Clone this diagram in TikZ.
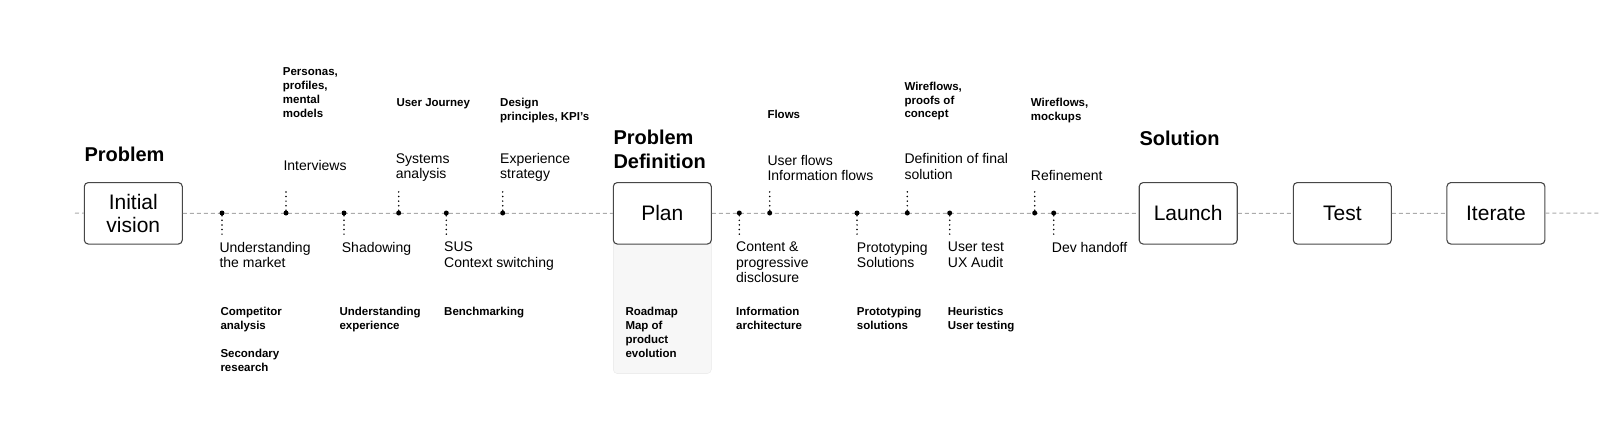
\documentclass[tikz,border=0pt]{standalone}
\usepackage{fontspec}
\setmainfont{Liberation Sans}
\usetikzlibrary{positioning}
\definecolor{lineGray}{HTML}{ABABAB}
\definecolor{panelGray}{HTML}{F7F7F7}
\definecolor{panelEdge}{HTML}{E8E8E8}
\definecolor{boxEdge}{HTML}{474747}
\tikzset{
  stage/.style={draw=boxEdge,line width=1.1pt,rounded corners=4pt,fill=white,
    minimum width=98pt,minimum height=61.5pt,align=center,inner sep=0pt,
    font=\fontsize{21}{23.5}\selectfont},
  panel/.style={draw=panelEdge,fill=panelGray,rounded corners=4pt,
    minimum width=98pt,inner sep=0pt},
  timeline/.style={lineGray,line width=1pt,dash pattern=on 4pt off 3pt},
  mdot/.style={circle,fill=black,inner sep=0pt,minimum size=5pt},
  tick/.style={black,line width=1.7pt,line cap=round,dash pattern=on 0pt off 4.6pt},
  lbl/.style={anchor=north west,align=left,inner sep=0pt,
    font=\fontsize{14}{15.5}\selectfont},
  tool/.style={anchor=north west,align=left,inner sep=0pt,
    font=\bfseries\fontsize{11.5}{13.8}\selectfont},
  phase/.style={anchor=north west,align=left,inner sep=0pt,
    font=\bfseries\fontsize{20}{24}\selectfont},
}
\newcommand{\milestone}[3]{% {name}{x}{+1 down / -1 up}
  \node[mdot] (#1) at (#2,213) {};
  \coordinate (#1-end) at (#2,{213+23*#3});
  \draw[tick] (#1) -- (#1-end);
}
\begin{document}
\begin{tikzpicture}[x=1pt,y=-1pt]
  \useasboundingbox (0,0) rectangle (1600,424);
  % Panel under Plan
  \node[panel,minimum height=159.5pt] (roadmap-panel) at (662.3,293.8) {};
  % Stages
  \node[stage] (vision) at (133.3,213.3) {Initial\\vision};
  \node[stage] (plan) at (662.3,213.3) {Plan};
  \node[stage] (launch) at (1188.2,213.3) {Launch};
  \node[stage] (test) at (1342.3,213.3) {Test};
  \node[stage] (iterate) at (1495.9,213.3) {Iterate};
  % Timeline
  \coordinate (tl-start) at (75,213);
  \coordinate (tl-end) at (1600,213);
  \draw[timeline] (tl-start) -- (vision) -- (plan) -- (launch) -- (test) -- (iterate) -- (tl-end);
  % Milestones
  \milestone{m-market}{222}{1}
  \milestone{m-interviews}{286}{-1}
  \milestone{m-shadowing}{344}{1}
  \milestone{m-systems}{398.7}{-1}
  \milestone{m-sus}{446.3}{1}
  \milestone{m-strategy}{502.7}{-1}
  \milestone{m-content}{739.3}{1}
  \milestone{m-flows}{769.7}{-1}
  \milestone{m-proto}{857}{1}
  \milestone{m-final}{907.3}{-1}
  \milestone{m-usertest}{949.7}{1}
  \milestone{m-refine}{1034.7}{-1}
  \milestone{m-handoff}{1053.7}{1}
  % Phase titles
  \node[phase] (t-problem) at (84.3,146.6) {Problem};
  \node[phase] (t-definition) at (613.3,130) {Problem\\Definition};
  \node[phase] (t-solution) at (1139.3,130.6) {Solution};
  % Activities
  \node[lbl] (market) at (219.3,241.7) {Understanding\\the market};
  \node[lbl] (interviews) at (283.3,160) {Interviews};
  \node[lbl] (shadowing) at (341.7,241.7) {Shadowing};
  \node[lbl] (systems) at (395.7,153.3) {Systems\\analysis};
  \node[lbl] (sus) at (444,241.7) {SUS\\Context switching};
  \node[lbl] (strategy) at (500,152.7) {Experience\\strategy};
  \node[lbl] (content) at (736,241.7) {Content \&\\progressive\\disclosure};
  \node[lbl] (userflows) at (767.3,155) {User flows\\Information flows};
  \node[lbl] (protosol) at (856.7,241.7) {Prototyping\\Solutions};
  \node[lbl] (final) at (904.3,153.3) {Definition of final\\solution};
  \node[lbl] (usertest) at (947.7,241.7) {User test\\UX Audit};
  \node[lbl] (refine) at (1030.7,170) {Refinement};
  \node[lbl] (handoff) at (1051.7,241.7) {Dev handoff};
  % Deliverables
  \node[tool] (personas) at (282.7,67.7) {Personas,\\profiles,\\mental\\models};
  \node[tool] (journey) at (396.3,98.4) {User Journey};
  \node[tool] (principles) at (500,98.4) {Design\\principles, KPI’s};
  \node[tool] (competitor) at (220.3,307.4) {Competitor\\analysis};
  \node[tool] (secondary) at (220.3,349) {Secondary\\research};
  \node[tool] (experience) at (339.3,307.4) {Understanding\\experience};
  \node[tool] (bench) at (444,307.4) {Benchmarking};
  \node[tool] (roadmap) at (625.3,307.4) {Roadmap\\Map of\\product\\evolution};
  \node[tool] (infoarch) at (736,307.4) {Information\\architecture};
  \node[tool] (flows) at (767.3,110) {Flows};
  \node[tool] (wire-concept) at (904.3,81.7) {Wireflows,\\proofs of\\concept};
  \node[tool] (protoshort) at (856.7,307.4) {Prototyping\\solutions};
  \node[tool] (heuristics) at (947.7,307.4) {Heuristics\\User testing};
  \node[tool] (wire-mockups) at (1030.7,97.7) {Wireflows,\\mockups};
\end{tikzpicture}
\end{document}
